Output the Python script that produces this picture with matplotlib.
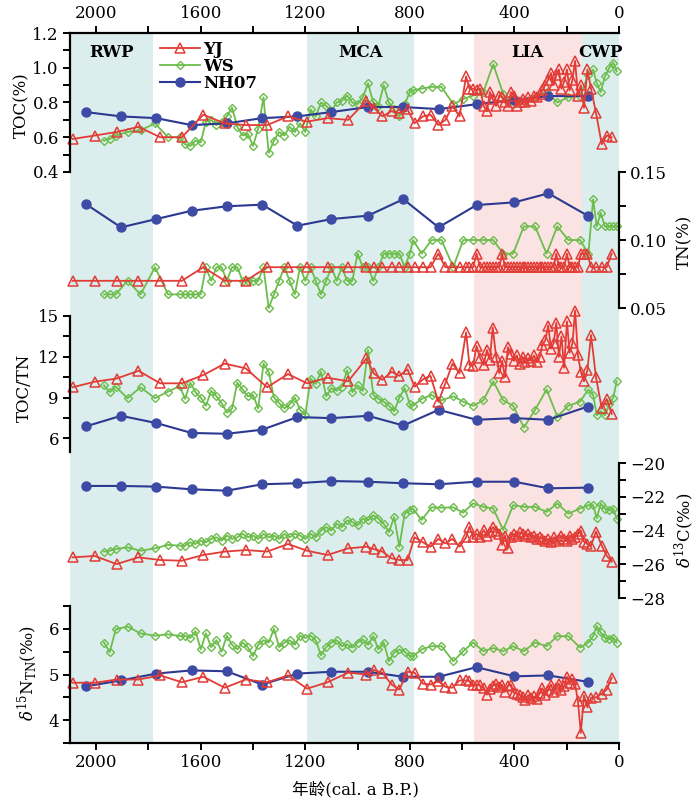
import matplotlib
matplotlib.use("Agg")
import matplotlib.pyplot as plt

plt.rcParams['font.family'] = ['DejaVu Serif', 'Noto Sans CJK SC']
plt.rcParams['mathtext.fontset'] = 'dejavuserif'
plt.rcParams['font.size'] = 12

# climate periods (cal a B.P.)
period_names = ["RWP", "MCA", "LIA", "CWP"]
period_start = [2100, 1195, 555, 143]
period_end = [1783, 785, 143, 0]
period_colors = ["#dbeeed", "#dbeeed", "#fbe3e3", "#dbeeed"]

# ---- YJ core ----
yj_age = [2090, 2005, 1922, 1838, 1755, 1672, 1590, 1508, 1428, 1346, 1266, 1193, 1115, 1036,
          966, 938, 905, 870, 840, 809, 782, 750, 721, 691, 664, 637, 610,
          585, 572, 558, 545, 531, 518, 505, 494, 483, 470,
          458, 447, 436, 425, 413, 402, 391, 380,
          369, 358, 347, 336, 325, 314, 303, 293, 282, 271,
          260, 250, 240, 230, 220, 210, 199, 189,
          178, 168, 157, 146,
          134, 121, 107, 88, 66, 47, 28]
yj_toc = [0.59, 0.61, 0.63, 0.66, 0.60, 0.60, 0.73, 0.68, 0.67, 0.67, 0.72, 0.69, 0.71, 0.70,
          0.81, 0.77, 0.72, 0.75, 0.74, 0.76, 0.68, 0.72, 0.73, 0.67, 0.70, 0.78, 0.72,
          0.95, 0.88, 0.88, 0.87, 0.88, 0.78, 0.75, 0.86, 0.82, 0.78,
          0.84, 0.83, 0.80, 0.78, 0.86, 0.84, 0.78, 0.80,
          0.82, 0.80, 0.83, 0.81, 0.84, 0.83, 0.85, 0.87, 0.90, 0.93,
          0.97, 0.90, 0.96, 0.99, 0.88, 0.92, 0.99, 0.87,
          0.93, 1.04, 0.84, 0.90,
          0.77, 0.99, 0.88, 0.74, 0.56, 0.61, 0.60]
yj_tn = [0.07, 0.07, 0.07, 0.07, 0.07, 0.07, 0.08, 0.07, 0.07, 0.08, 0.08, 0.08, 0.08, 0.08,
         0.08, 0.08, 0.08, 0.08, 0.08, 0.08, 0.08, 0.08, 0.08, 0.09, 0.08, 0.08, 0.08,
         0.08, 0.08, 0.08, 0.09, 0.08, 0.08, 0.08, 0.08, 0.08, 0.08,
         0.08, 0.09, 0.08, 0.08, 0.08, 0.08, 0.08, 0.08,
         0.08, 0.08, 0.08, 0.08, 0.08, 0.08, 0.08, 0.08, 0.08, 0.08,
         0.08, 0.08, 0.09, 0.08, 0.08, 0.08, 0.09, 0.08,
         0.08, 0.08, 0.08, 0.09,
         0.09, 0.09, 0.08, 0.08, 0.08, 0.08, 0.09]
yj_cn = [9.76, 10.17, 10.4, 10.97, 10.05, 10.05, 10.66, 11.5, 11.15, 9.76, 10.73, 10.05, 10.46, 10.2,
         11.88, 10.78, 10.3, 10.9, 10.6, 11.08, 9.8, 10.34, 10.6, 8.7, 10.05, 11.5, 10.78,
         13.8, 11.4, 11.35, 12.8, 11.9, 11.4, 12.5, 11.8, 14.15, 12.0,
         10.8, 11.7, 10.5, 12.7, 12.2, 11.7, 12.1, 11.5,
         12.0, 11.6, 11.9, 11.7, 12.1, 11.6, 12.0, 12.9, 13.2, 14.3,
         12.6, 13.0, 14.5, 12.0, 13.5, 11.2, 14.6, 12.3,
         13.0, 15.4, 12.1, 10.9,
         10.2, 11.0, 13.6, 10.5, 8.2, 8.9, 7.8]
yj_d13c = [-25.59, -25.51, -25.99, -25.59, -25.75, -25.79, -25.45, -25.25, -25.16, -25.25, -24.8, -25.2, -25.45, -25.06,
           -24.96, -25.1, -25.25, -25.65, -25.75, -25.75, -24.4, -24.7, -24.96, -24.5, -24.76, -24.5, -24.96,
           -24.4, -23.77, -24.4, -24.2, -24.4, -23.97, -24.3, -24.1, -23.8, -24.0,
           -24.2, -24.86, -24.3, -25.06, -24.4, -24.2, -24.3, -24.1,
           -24.2, -24.3, -24.2, -24.4, -24.3, -24.5, -24.4, -24.5, -24.6, -24.5,
           -24.7, -24.4, -24.6, -24.5, -24.3, -24.5, -24.6, -24.3,
           -24.5, -24.4, -24.2, -24.0,
           -24.66, -24.8, -24.9, -24.07, -24.9, -25.5, -25.85]
yj_d15n = [4.82, 4.82, 4.89, 4.89, 4.98, 4.83, 4.95, 4.71, 4.89, 4.83, 4.98, 4.69, 4.83, 5.04,
           5.0, 5.1, 5.04, 4.78, 4.67, 5.06, 5.04, 4.80, 4.78, 4.85, 4.73, 4.71, 4.87,
           4.87, 4.85, 4.76, 4.78, 4.76, 4.70, 4.56, 4.68, 4.75, 4.80,
           4.72, 4.78, 4.62, 4.75, 4.78, 4.60, 4.58, 4.55,
           4.51, 4.45, 4.55, 4.48, 4.52, 4.46, 4.60, 4.70, 4.55, 4.66,
           4.78, 4.62, 4.71, 4.80, 4.66, 4.75, 4.95, 4.82,
           4.90, 4.80, 4.41, 3.72,
           4.54, 4.28, 4.49, 4.50, 4.58, 4.67, 4.93]

# ---- WS core ----
ws_age = [1970, 1948, 1925, 1880, 1830, 1775, 1725, 1680,
          1660, 1640, 1620, 1600, 1580, 1560, 1540, 1520, 1500, 1480,
          1460, 1440, 1420, 1400, 1380, 1360, 1340, 1320, 1300, 1280,
          1260, 1240, 1220, 1200, 1180, 1160, 1140, 1120, 1100, 1080,
          1060, 1040, 1020, 1000, 980, 960, 940, 920, 900, 880,
          860, 840, 820, 800,
          788, 755, 717, 679, 634, 596, 558, 519, 481, 443,
          405, 364, 321, 277, 236, 194, 149, 117, 99, 85,
          70, 54, 37, 22, 9]
ws_toc = [0.58, 0.59, 0.61, 0.63, 0.64, 0.68, 0.60, 0.60,
          0.56, 0.55, 0.58, 0.57, 0.69, 0.70, 0.67, 0.69, 0.72, 0.77,
          0.66, 0.61, 0.62, 0.55, 0.65, 0.83, 0.51, 0.58, 0.63, 0.61,
          0.66, 0.63, 0.68, 0.63, 0.76, 0.72, 0.80, 0.78, 0.75, 0.80,
          0.81, 0.84, 0.80, 0.79, 0.83, 0.91, 0.80, 0.78, 0.90, 0.80,
          0.76, 0.72, 0.79, 0.86,
          0.87, 0.88, 0.89, 0.89, 0.79, 0.82, 0.84, 0.86, 1.02, 0.85,
          0.79, 0.81, 0.83, 0.86, 0.80, 0.83, 0.84, 0.96, 0.99, 0.91,
          0.86, 0.95, 1.00, 1.03, 0.98]
ws_tn = [0.06, 0.06, 0.06, 0.07, 0.06, 0.08, 0.06, 0.06,
         0.06, 0.06, 0.06, 0.06, 0.08, 0.07, 0.08, 0.08, 0.07, 0.08,
         0.08, 0.07, 0.07, 0.07, 0.07, 0.08, 0.05, 0.06, 0.07, 0.08,
         0.07, 0.06, 0.08, 0.07, 0.08, 0.07, 0.06, 0.07, 0.08, 0.07,
         0.08, 0.07, 0.07, 0.09, 0.08, 0.08, 0.07, 0.08, 0.09, 0.09,
         0.09, 0.09, 0.08, 0.09,
         0.10, 0.09, 0.10, 0.10, 0.08, 0.10, 0.10, 0.10, 0.10, 0.09,
         0.09, 0.11, 0.11, 0.09, 0.11, 0.10, 0.10, 0.09, 0.13, 0.11,
         0.12, 0.11, 0.11, 0.11, 0.11]
ws_cn = [9.9, 9.4, 9.8, 8.95, 9.76, 8.95, 9.44, 9.85,
         8.9, 10.1, 9.4, 9.0, 8.4, 9.5, 9.1, 8.6, 7.9, 8.2,
         10.1, 9.6, 9.1, 9.2, 8.2, 11.5, 10.9, 9.0, 8.6, 8.2,
         8.5, 9.0, 8.1, 7.7, 10.4, 10.0, 10.9, 9.1, 9.7, 9.5,
         9.8, 11.0, 9.4, 9.9, 9.5, 12.5, 9.2, 8.9, 8.7, 8.4,
         8.0, 9.0, 9.7, 8.5,
         8.4, 8.9, 9.2, 8.8, 9.1, 8.7, 8.4, 8.8, 10.2, 8.8,
         8.4, 6.8, 8.1, 9.6, 7.6, 8.4, 8.7, 9.6, 9.2, 7.7,
         8.0, 7.7, 8.5, 9.0, 10.2]
ws_d13c = [-25.25, -25.2, -25.1, -25.0, -25.2, -25.06, -24.85, -24.9,
           -24.9, -24.7, -24.8, -24.6, -24.7, -24.5, -24.4, -24.6, -24.3, -24.5,
           -24.4, -24.2, -24.4, -24.3, -24.5, -24.2, -24.4, -24.3, -24.5, -24.2,
           -24.4, -24.2, -24.3, -24.5, -24.2, -24.4, -24.0, -23.8, -24.0, -23.6,
           -23.8, -23.4, -23.5, -23.7, -23.3, -23.4, -23.1, -23.3, -23.6, -24.1,
           -23.2, -24.96, -23.0, -22.8,
           -22.7, -23.38, -22.63, -22.65, -22.63, -22.94, -22.39, -22.6, -22.7, -23.97,
           -22.5, -22.6, -22.6, -22.9, -22.4, -23.0, -22.7, -22.5, -22.5, -23.28,
           -22.4, -22.7, -22.8, -22.7, -23.3]
ws_d15n = [5.70, 5.49, 5.99, 6.05, 5.90, 5.85, 5.88, 5.84,
           5.85, 5.80, 5.95, 5.55, 5.90, 5.60, 5.75, 5.50, 5.85, 5.65,
           5.55, 5.70, 5.60, 5.40, 5.65, 5.75, 5.70, 6.00, 5.60, 5.70,
           5.75, 5.65, 5.85, 5.80, 5.85, 5.75, 5.42, 5.60, 5.70, 5.75,
           5.62, 5.66, 5.59, 5.70, 5.77, 5.65, 5.84, 5.55, 5.70, 5.29,
           5.48, 5.55, 5.50, 5.40,
           5.40, 5.55, 5.62, 5.62, 5.29, 5.51, 5.70, 5.51, 5.58, 5.51,
           5.62, 5.51, 5.70, 5.62, 5.84, 5.84, 5.59, 5.70, 5.84, 6.06,
           5.92, 5.81, 5.77, 5.81, 5.70]

# ---- NH07 core ----
nh_age = [2040, 1905, 1770, 1635, 1500, 1365, 1230, 1100, 960, 825, 690, 545, 400, 270, 120]
nh_toc = [0.745, 0.72, 0.71, 0.67, 0.68, 0.71, 0.72, 0.745, 0.774, 0.774, 0.762, 0.79, 0.815, 0.837, 0.837]
nh_tn = [0.1265, 0.1093, 0.1154, 0.1215, 0.1248, 0.126, 0.1105, 0.1154, 0.1179, 0.130, 0.1093, 0.1257, 0.1277, 0.1343, 0.1179]
nh_cn = [6.88, 7.66, 7.13, 6.40, 6.34, 6.64, 7.57, 7.49, 7.66, 6.95, 8.10, 7.37, 7.49, 7.37, 8.34]
nh_d13c = [-21.36, -21.36, -21.40, -21.56, -21.64, -21.26, -21.20, -21.07, -21.11, -21.20, -21.26, -21.11, -21.11, -21.50, -21.46]
nh_d15n = [4.74, 4.87, 5.02, 5.09, 5.07, 4.78, 5.02, 5.06, 5.06, 4.95, 4.95, 5.16, 4.96, 4.98, 4.84]

yj_style = dict(color='#e23c37', lw=1.3, marker='^', ms=6.5, mfc='none', mew=1.1)
ws_style = dict(color='#6cbd4c', lw=1.3, marker='D', ms=4.5, mfc='none', mew=1.0)
nh_style = dict(color='#2b3990', lw=1.5, marker='o', ms=6.5, mec='#3d4ba5', mfc='#3d4ba5')

W, H = 700, 805
fig = plt.figure(figsize=(W / 100, H / 100), dpi=100)


def panel(top, bottom):
    # axes placed by pixel rows, all share the same x range
    return fig.add_axes([70 / W, 1 - bottom / H, 549 / W, (bottom - top) / H])


def style(ax, ylim, side, major, minor, labels=None):
    ax.set_xlim(2100, 0)
    ax.set_ylim(*ylim)
    ax.patch.set_alpha(0)
    for s in ax.spines.values():
        s.set_visible(False)
    ax.spines[side].set_visible(True)
    ax.spines[side].set_linewidth(1.6)
    ax.yaxis.set_ticks_position(side)
    ax.set_yticks(major)
    if labels is not None:
        ax.set_yticklabels(labels)
    ax.set_yticks(minor, minor=True)
    ax.set_xticks([])
    ax.set_xticks([], minor=True)
    ax.tick_params(which='both', direction='out', length=5, width=1.4, labelsize=12, pad=3)


def xaxis(ax, where):
    ax.spines[where].set_visible(True)
    ax.spines[where].set_linewidth(1.6)
    ax.set_xticks([2000, 1600, 1200, 800, 400, 0])
    ax.set_xticks([1800, 1400, 1000, 600, 200], minor=True)
    ax.xaxis.set_ticks_position(where)
    ax.tick_params(axis='x', which='both', direction='out', length=5, width=1.4, labelsize=12, pad=3)


def draw(ax, yj, ws, nh, yj_x=yj_age, ws_x=ws_age, nh_x=nh_age):
    l2, = ax.plot(ws_x, ws, clip_on=False, label='WS', **ws_style)
    l3, = ax.plot(nh_x, nh, clip_on=False, label='NH07', **nh_style)
    l1, = ax.plot(yj_x, yj, clip_on=False, label='YJ', **yj_style)
    return [l1, l2, l3]


# background shading for the climate periods
bg = panel(33, 743)
bg.set_xlim(2100, 0)
bg.set_ylim(0, 1)
bg.axis('off')
for name, a, b, c in zip(period_names, period_start, period_end, period_colors):
    bg.axvspan(a, b, color=c, lw=0, zorder=0)
    bg.text((a + b) / 2, 0.972, name, ha='center', va='center', fontsize=12, fontweight='bold')

ax1 = panel(33, 172)
style(ax1, (0.4, 1.2), 'left', [0.4, 0.6, 0.8, 1.0, 1.2], [0.5, 0.7, 0.9, 1.1],
      ['0.4', '0.6', '0.8', '1.0', '1.2'])
xaxis(ax1, 'top')
handles = draw(ax1, yj_toc, ws_toc, nh_toc)

ax2 = panel(172, 308)
style(ax2, (0.05, 0.15), 'right', [0.05, 0.10, 0.15], [0.075, 0.125], ['0.05', '0.10', '0.15'])
draw(ax2, yj_tn, ws_tn, nh_tn)

ax3 = panel(316, 452)
style(ax3, (5, 15), 'left', [6, 9, 12, 15], [7.5, 10.5, 13.5])
draw(ax3, yj_cn, ws_cn, nh_cn)

ax4 = panel(463, 598)
style(ax4, (-28, -20), 'right', [-28, -26, -24, -22, -20], [-27, -25, -23, -21])
draw(ax4, yj_d13c, ws_d13c, nh_d13c)

ax5 = panel(606, 743)
style(ax5, (3.5, 6.5), 'left', [4, 5, 6], [3.5, 4.5, 5.5, 6.5])
xaxis(ax5, 'bottom')
draw(ax5, yj_d15n, ws_d15n, nh_d15n)

ax1.legend(handles, ['YJ', 'WS', 'NH07'], loc='upper left',
           bbox_to_anchor=(160 / W, 1 - 41 / H), bbox_transform=fig.transFigure,
           frameon=False, numpoints=1, handlelength=2.4, handletextpad=0.2,
           labelspacing=0.0, borderpad=0, borderaxespad=0,
           prop=dict(weight='bold', size=12))

# axis titles
fig.text(22 / W, 1 - 105 / H, 'TOC(%)', rotation=90, ha='center', va='center', fontsize=12)
fig.text(685 / W, 1 - 242 / H, 'TN(%)', rotation=90, ha='center', va='center', fontsize=12)
fig.text(24 / W, 1 - 388 / H, 'TOC/TN', rotation=90, ha='center', va='center', fontsize=12)
fig.text(684 / W, 1 - 530 / H, r'$\delta^{13}$C(‰)', rotation=90, ha='center', va='center', fontsize=12)
fig.text(27 / W, 1 - 673 / H, r'$\delta^{15}$N$_{\mathrm{TN}}$(‰)', rotation=90,
         ha='center', va='center', fontsize=12)
fig.text(356 / W, 1 - 790 / H, '年龄(cal. a B.P.)', ha='center', va='center', fontsize=12)

fig.savefig('out.png', dpi=100)
